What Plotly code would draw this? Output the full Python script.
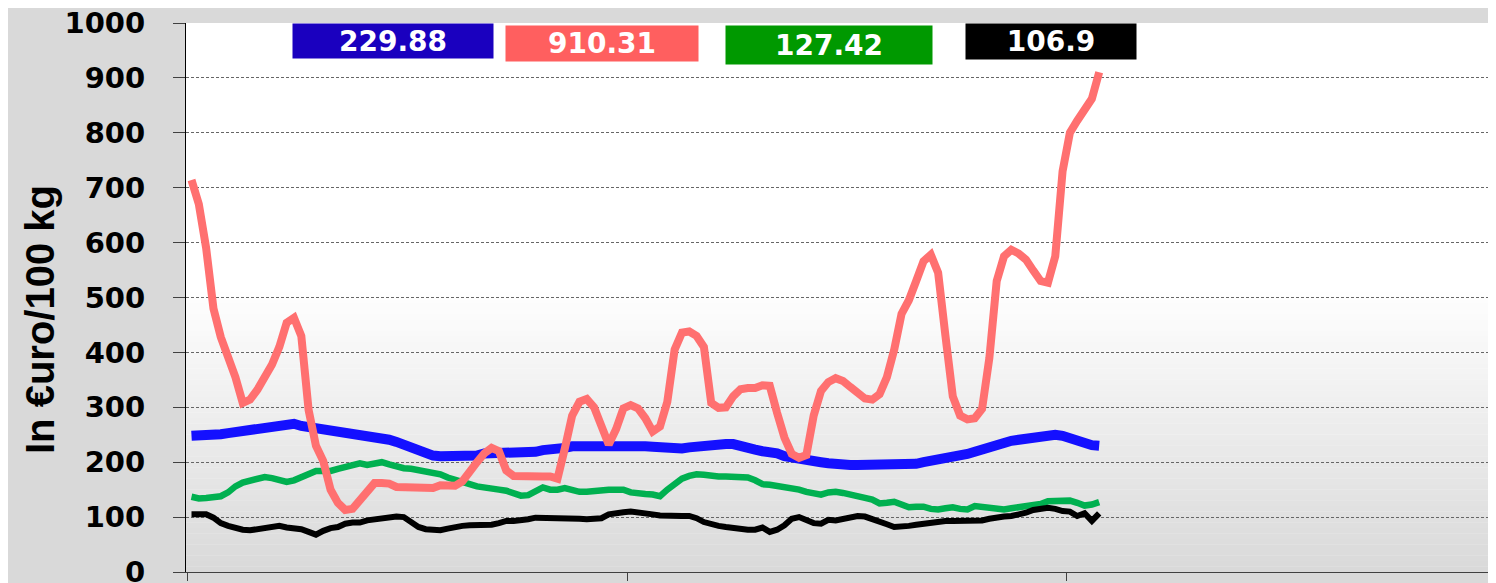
import plotly.graph_objects as go
import numpy as np

# ---------------- data ----------------
months = list(range(125))

red_series = [714, 670, 590, 480, 428, 395, 355, 308, 314, 332,
              355, 378, 410, 454, 463, 430, 295, 230, 202, 150,
              126, 113, 115, 130, 150, 162, 162, 161, 155, 155,
              155, 155, 152, 153, 158, 158, 157, 165, 180, 200,
              216, 226, 220, 185, 175, 174, 174, 174, 174, 174,
              170, 225, 285, 310, 315, 300, 262, 232, 260, 298,
              304, 298, 280, 256, 265, 310, 405, 436, 438, 430,
              410, 308, 299, 300, 320, 333, 335, 335, 340, 339,
              290, 245, 215, 208, 213, 285, 330, 346, 353, 348,
              337, 326, 316, 314, 324, 355, 405, 470, 495, 530,
              566, 578, 545, 430, 320, 285, 278, 280, 297, 390,
              530, 575, 587, 580, 569, 549, 530, 527, 575, 730,
              800, 822, 840, 862, 910.31]

blue_series = [248, 248, 248, 248, 251, 253, 255, 259, 262, 264,
               265, 267, 268, 268, 270, 266, 264, 264, 261, 258,
               255, 253, 252, 249, 246, 244, 242, 241, 237, 232,
               228, 222, 216, 212, 211, 211, 211, 211, 211, 212,
               216, 216, 216, 216, 216, 216, 217, 219, 222, 222,
               223, 226, 229, 229, 229, 229, 230, 232, 233, 233,
               232, 230, 229, 228, 227, 225, 225, 225, 227, 229,
               231, 233, 233, 233, 233, 231, 226, 223, 220, 219,
               216, 211, 208, 207, 205, 202, 200, 198, 196, 195,
               195, 195, 195, 195, 195, 195, 195, 195, 195, 197,
               200, 202, 204, 206, 209, 212, 215, 219, 222, 226,
               231, 235, 239, 241, 243, 245, 248, 250, 250, 248,
               243, 238, 233, 231, 229.88]

green_series = [137, 134, 135, 137, 138, 145, 156, 163, 167, 171,
                173, 171, 167, 164, 167, 173, 180, 184, 184, 184,
                188, 192, 195, 198, 195, 197, 200, 196, 191, 189,
                188, 186, 184, 182, 178, 172, 167, 164, 160, 156,
                153, 152, 150, 148, 143, 139, 140, 148, 154, 150,
                150, 153, 148, 146, 146, 148, 150, 150, 150, 150,
                145, 142, 142, 141, 138, 150, 161, 170, 175, 178,
                177, 175, 174, 174, 174, 174, 172, 167, 160, 159,
                157, 156, 154, 150, 146, 142, 141, 145, 146, 144,
                140, 137, 135, 132, 125, 126, 128, 123, 118, 119,
                119, 115, 114, 116, 118, 115, 114, 120, 118, 116,
                115, 114, 116, 118, 119, 120, 124, 129, 130, 130,
                130, 126, 121, 123, 127.42]

black_series = [105, 105, 105, 99, 89, 84, 80, 77, 76, 78,
                82, 84, 84, 81, 80, 78, 73, 68, 75, 80,
                82, 88, 90, 90, 94, 96, 96, 99, 101, 100,
                90, 82, 78, 77, 76, 79, 82, 84, 85, 85,
                85, 86, 89, 93, 93, 94, 96, 99, 99, 99,
                99, 99, 99, 97, 96, 96, 98, 105, 108, 109,
                110, 109, 108, 105, 103, 102, 102, 102, 102, 98,
                91, 87, 84, 82, 80, 77, 77, 77, 81, 73,
                77, 85, 97, 100, 95, 89, 88, 95, 94, 96,
                100, 102, 101, 97, 93, 87, 82, 82, 84, 86,
                88, 90, 92, 93, 93, 93, 93, 93, 94, 97,
                100, 101, 102, 104, 108, 113, 115, 117, 115, 111,
                110, 102, 107, 93, 106.9]

y_ticks = [0, 100, 200, 300, 400, 500, 600, 700, 800, 900, 1000]
x_ticks = [-0.5, 59.5, 119.5]
y_title = "In €uro/100 kg"

# ---------------- figure ----------------
# The page body adds an 8px offset; all targets below are viewport pixels.
OFF = 8
W, H = 1496, 583
AXIS_X, TOP_Y, ZERO_Y = 186, 23, 572
ML = AXIS_X - OFF
MT = TOP_Y - OFF
PH = ZERO_Y - TOP_Y
MB = H - MT - PH
MR = 0
PW = W - ML - MR

fig = go.Figure()

series = [
    (blue_series, "#1410ff", 10),
    (green_series, "#00b050", 6.5),
    (black_series, "#000000", 6),
    (red_series, "#ff7070", 8),
]
for vals, col, w in series:
    fig.add_trace(go.Scatter(x=months, y=vals, mode="lines",
                             line=dict(color=col, width=w),
                             hoverinfo="skip", showlegend=False))

# background gradient in the plot area (white at top, light gray at bottom)
shapes = []
n_bands = 52
top_val = 520.0
for k in range(n_bands):
    y0 = top_val * k / n_bands
    y1 = top_val * (k + 1) / n_bands
    t = (k + 0.5) / n_bands
    g = int(round(217 + (255 - 217) * t))
    shapes.append(dict(type="rect", xref="paper", yref="y",
                       x0=0, x1=1, y0=y0, y1=y1 + 0.5,
                       fillcolor=f"rgb({g},{g},{g})",
                       line=dict(width=0), layer="below"))


def px_to_paper(px, py):
    return (px - AXIS_X) / PW, (ZERO_Y - py) / PH


annotations = []
labels = [
    (blue_series[-1], "#1a00bf", 393, 41, 200, 34),
    (red_series[-1], "#ff5f5f", 602, 43.5, 192, 35),
    (green_series[-1], "#009900", 829, 45, 206, 38),
    (black_series[-1], "#000000", 1051, 41.5, 170, 35),
]
for val, bg, cx, cy, bw, bh in labels:
    xp, yp = px_to_paper(cx, cy)
    annotations.append(dict(
        x=xp, y=yp, xref="paper", yref="paper",
        xanchor="center", yanchor="middle",
        text=f"{val:g}", showarrow=False,
        width=bw, height=bh, bgcolor=bg, borderpad=0,
        font=dict(family="DejaVu Sans", size=28, color="white", weight="bold")))

xt, yt = px_to_paper(40, 320)
annotations.append(dict(
    x=xt, y=yt, xref="paper", yref="paper",
    xanchor="center", yanchor="middle", textangle=-90,
    text=y_title, showarrow=False,
    font=dict(family="Liberation Sans", size=40, color="black", weight="bold")))

step = 7.32
x0_px = 191.5
xmin = -(x0_px - AXIS_X) / step
xmax = xmin + PW / step

fig.update_layout(
    width=W, height=H,
    margin=dict(l=ML, r=MR, t=MT, b=MB, pad=0, autoexpand=False),
    paper_bgcolor="#d9d9d9",
    plot_bgcolor="#ffffff",
    shapes=shapes,
    annotations=annotations,
    showlegend=False,
    xaxis=dict(range=[xmin, xmax], showgrid=False, zeroline=False,
               showline=True, linecolor="#404040", linewidth=1,
               tickmode="array", tickvals=x_ticks, ticks="outside",
               ticklen=8, tickcolor="#404040", tickwidth=1,
               showticklabels=False, fixedrange=True, automargin=False),
    yaxis=dict(range=[0, 1000], tickmode="array", tickvals=y_ticks,
               showgrid=True, gridcolor="#666666", gridwidth=1,
               griddash="3px,2px", zeroline=False,
               showline=True, linecolor="#000000", linewidth=1,
               ticks="outside", ticklen=12, tickcolor="#404040",
               ticklabelstandoff=22, automargin=False,
               ticklabeloverflow="allow",
               tickfont=dict(family="DejaVu Sans", size=29, color="black",
                             weight="bold"),
               fixedrange=True),
)

fig.write_html("out.html")
